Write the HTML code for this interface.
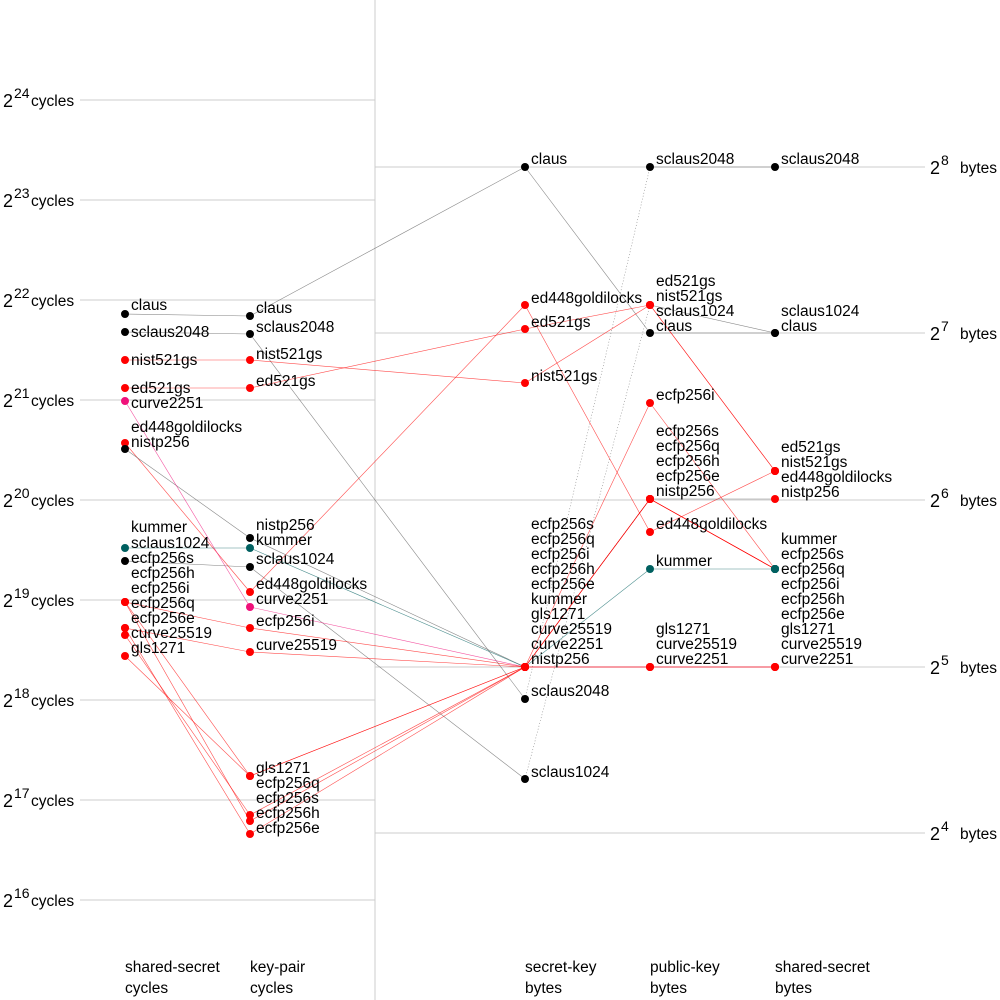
<!DOCTYPE html>
<html><head><meta charset="utf-8"><style>
html,body{margin:0;padding:0;background:#fff}
svg{display:block;font-family:"Liberation Sans",sans-serif}
</style></head><body>
<svg id="s" width="1000" height="1000" xmlns="http://www.w3.org/2000/svg"></svg>
<script>
const s=document.getElementById('s');let h='';
h+='<line x1="375" y1="0" x2="375" y2="1000" stroke="#ccc"/>';
for(let i=0;i<9;i++){const y=100+i*100,e=24-i;
h+=`<line x1="80" y1="${y}" x2="375" y2="${y}" stroke="#ccc"/>`;
h+=`<text x="3" y="${y+7}" font-size="18">2</text><text x="14" y="${y-2}" font-size="14">${e}</text><text x="31" y="${y+6}" font-size="15.5">cycles</text>`;}
[[167,8],[333,7],[500,6],[667,5],[833,4]].forEach(([y,e])=>{
h+=`<line x1="375" y1="${y}" x2="925" y2="${y}" stroke="#ccc"/>`;
h+=`<text x="930" y="${y+7}" font-size="18">2</text><text x="941" y="${y-2}" font-size="14">${e}</text><text x="960" y="${y+6}" font-size="15.5">bytes</text>`;});
const X=[125,250,525,650,775];
const R='#ff0000',B='#000',T='#006060',P='#f0107a';
const S=[
['claus',[314,316,167,333,333],'#555',[B,B,B,B,B],'0'],
['sclaus2048',[332,334,699,167,167],'#555',[B,B,B,B,B],'1 2'],
['sclaus1024',[561,567,779,305,333],'#555',[B,B,B,R,B],'1 2'],
['nist521gs',[360,360,383,305,471],R,[R,R,R,R,R],'0'],
['ed521gs',[388,388,329,305,471],R,[R,R,R,R,R],'0'],
['ed448',[443,592,305,532,471],R,[R,R,R,R,R],'0'],
['nistp256',[449,538,667,499,499],'#555',[B,B,R,R,R],'0'],
['curve2251',[401,607,667,667,667],P,[P,P,R,R,R],'0'],
['kummer',[548,548,667,569,569],T,[T,T,R,T,T],'0'],
['ecfp256i',[602,628,667,403,569],R,[R,R,R,R,T],'0'],
['ecfp256s',[602,821,667,499,569],R,[R,R,R,R,T],'1 2'],
['ecfp256q',[602,776,667,499,569],R,[R,R,R,R,T],'0'],
['ecfp256h',[635,815,667,499,569],R,[R,R,R,R,T],'0'],
['ecfp256e',[628,834,667,499,569],R,[R,R,R,R,T],'0'],
['curve25519',[628,652,667,667,667],R,[R,R,R,R,R],'0'],
['gls1271',[656,776,667,667,667],R,[R,R,R,R,R],'0'],
];
S.forEach(([n,ys,c,pc,d])=>{for(let i=0;i<4;i++)h+=`<line x1="${X[i]}" y1="${ys[i]}" x2="${X[i+1]}" y2="${ys[i+1]}" stroke="${c}" stroke-width="0.6" stroke-opacity="0.7" ${i==2&&d!='0'?'stroke-dasharray="'+d+'"':''}/>`;});
S.forEach(([n,ys,c,pc])=>{ys.forEach((y,i)=>{h+=`<circle cx="${X[i]}" cy="${y}" r="4" fill="${pc[i]}"/>`;});});
const L=[
[125,[[310,'claus'],[337,'sclaus2048'],[365,'nist521gs'],[393,'ed521gs'],[408,'curve2251'],[432,'ed448goldilocks'],[447,'nistp256'],[532,'kummer'],[548,'sclaus1024'],[563,'ecfp256s'],[578,'ecfp256h'],[593,'ecfp256i'],[608,'ecfp256q'],[623,'ecfp256e'],[638,'curve25519'],[653,'gls1271']]],
[250,[[313,'claus'],[332,'sclaus2048'],[359,'nist521gs'],[386,'ed521gs'],[530,'nistp256'],[545,'kummer'],[564,'sclaus1024'],[589,'ed448goldilocks'],[604,'curve2251'],[626,'ecfp256i'],[650,'curve25519'],[773,'gls1271'],[788,'ecfp256q'],[803,'ecfp256s'],[818,'ecfp256h'],[833,'ecfp256e']]],
[525,[[164,'claus'],[303,'ed448goldilocks'],[327,'ed521gs'],[381,'nist521gs'],[529,'ecfp256s'],[544,'ecfp256q'],[559,'ecfp256i'],[574,'ecfp256h'],[589,'ecfp256e'],[604,'kummer'],[619,'gls1271'],[634,'curve25519'],[649,'curve2251'],[664,'nistp256'],[696,'sclaus2048'],[777,'sclaus1024']]],
[650,[[164,'sclaus2048'],[286,'ed521gs'],[301,'nist521gs'],[316,'sclaus1024'],[331,'claus'],[400,'ecfp256i'],[436,'ecfp256s'],[451,'ecfp256q'],[466,'ecfp256h'],[481,'ecfp256e'],[496,'nistp256'],[529,'ed448goldilocks'],[566,'kummer'],[634,'gls1271'],[649,'curve25519'],[664,'curve2251']]],
[775,[[164,'sclaus2048'],[316,'sclaus1024'],[331,'claus'],[452,'ed521gs'],[467,'nist521gs'],[482,'ed448goldilocks'],[497,'nistp256'],[544,'kummer'],[559,'ecfp256s'],[574,'ecfp256q'],[589,'ecfp256i'],[604,'ecfp256h'],[619,'ecfp256e'],[634,'gls1271'],[649,'curve25519'],[664,'curve2251']]]];
L.forEach(([x,a])=>a.forEach(([y,t])=>{h+=`<text x="${x+6}" y="${y}" font-size="15.5">${t}</text>`;}));
[[125,'shared-secret','cycles'],[250,'key-pair','cycles'],[525,'secret-key','bytes'],[650,'public-key','bytes'],[775,'shared-secret','bytes']].forEach(([x,a,b])=>{
h+=`<text x="${x}" y="972" font-size="15.5">${a}</text><text x="${x}" y="993" font-size="15.5">${b}</text>`;});
s.innerHTML=h;
</script>
</body></html>
